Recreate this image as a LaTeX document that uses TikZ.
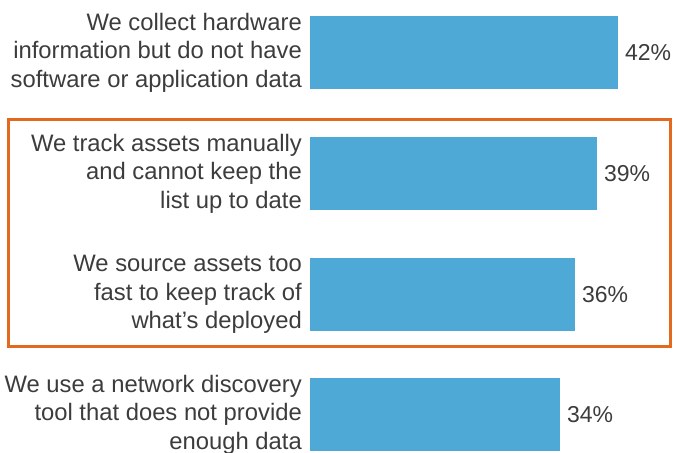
\documentclass[tikz,border=0pt]{standalone}
\usepackage{fontspec}
\setmainfont{Liberation Sans}
\usepackage{xcolor}
\usetikzlibrary{positioning}

\definecolor{barblue}{HTML}{4EA9D6}
\definecolor{boxorange}{HTML}{E2691E}
\definecolor{txtgray}{HTML}{3C3C3C}

\begin{document}
\begin{tikzpicture}[x=1pt, y=-1pt,
  bar/.style={fill=barblue, inner sep=0pt, minimum height=72.5pt, anchor=north west},
  lbl/.style={align=right, inner sep=0pt, text=txtgray, font=\fontsize{23.8}{28.6}\selectfont},
  pct/.style={inner sep=0pt, text=txtgray, font=\fontsize{23}{28.6}\selectfont}]

\useasboundingbox (0,0) rectangle (673,453);

% Highlight frame
\draw[boxorange, line width=2.5pt] (8.7,119.5) rectangle (670.7,346.7);

% Bars
\node[bar, minimum width=308pt] (b1) at (310,16) {};
\node[bar, minimum width=287pt] (b2) at (310,137) {};
\node[bar, minimum width=265pt] (b3) at (310,258) {};
\node[bar, minimum width=250pt] (b4) at (310,378) {};

% Category labels
\node[lbl, left=8pt of b1] (l1) {We collect hardware\\information but do not have\\software or application data};
\node[lbl, left=8pt of b2] (l2) {We track assets manually\\and cannot keep the\\list up to date};
\node[lbl, left=8pt of b3] (l3) {We source assets too\\fast to keep track of\\what’s deployed};
\node[lbl, left=8pt of b4] (l4) {We use a network discovery\\tool that does not provide\\enough data};

% Values
\node[pct, right=6.5pt of b1] (p1) {42\%};
\node[pct, right=6.5pt of b2] (p2) {39\%};
\node[pct, right=6.5pt of b3] (p3) {36\%};
\node[pct, right=6.5pt of b4] (p4) {34\%};

\end{tikzpicture}
\end{document}
